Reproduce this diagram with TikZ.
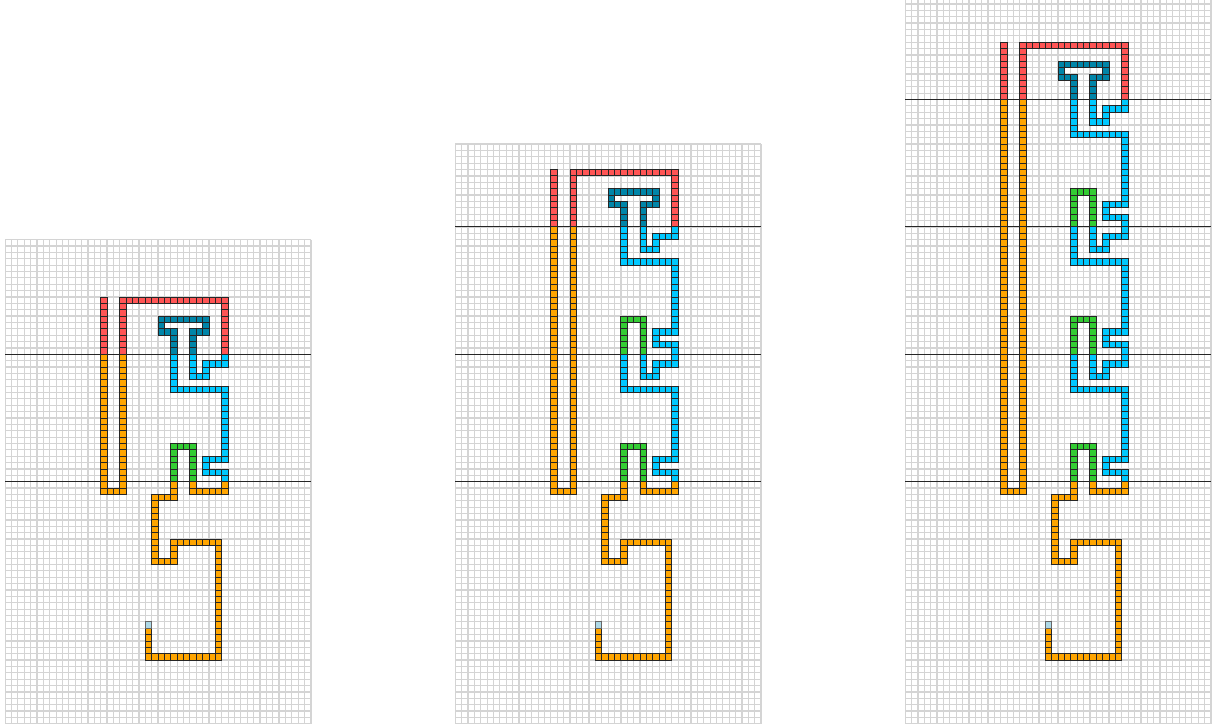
\documentclass[tikz,border=0pt]{standalone}
\definecolor{cred}{HTML}{FF5555}
\definecolor{corange}{HTML}{FFA500}
\definecolor{cdark}{HTML}{0085A8}
\definecolor{ccyan}{HTML}{00C8FF}
\definecolor{cgreen}{HTML}{33CC33}
\definecolor{clight}{HTML}{ADD8E6}
\tikzset{
  cellsty/.style={draw=black!85, line width=0.9pt},
  gridsty/.style={draw=black!17, line width=1.2pt},
  sepline/.style={draw=black!85, line width=1pt}
}
\newcommand\hrun[4]{\foreach \cc in {#3,...,#4}{\filldraw[cellsty,fill=#1] (\cc,#2) rectangle ++(1,1);}}
\newcommand\vrun[4]{\foreach \rr in {#3,...,#4}{\filldraw[cellsty,fill=#1] (#2,\rr) rectangle ++(1,1);}}
% #1 x offset (pt), #2 top module row T, #3 grid top row, #4 separator rows, #5 module rows
\newcommand\drawpanel[5]{%
\begin{scope}[shift={(#1pt,-354.3pt)},x=6.37pt,y=-6.37pt]
 \foreach \i in {0,...,48}{\draw[gridsty] (\i,#3) -- (\i,58);}
 \foreach \j in {#3,...,58}{\draw[gridsty] (0,\j) -- (48,\j);}
 \foreach \k in {#4}{\draw[sepline] (0,\k) -- (48,\k);}
 \pgfmathtruncatemacro\Ta{#2-9}\pgfmathtruncatemacro\Tb{#2-8}
 \pgfmathtruncatemacro\Tf{#2-6}\pgfmathtruncatemacro\Te{#2-5}
 \pgfmathtruncatemacro\Td{#2-4}\pgfmathtruncatemacro\Tc{#2-3}
 \pgfmathtruncatemacro\Tl{#2-1}
 % red top part
 \vrun{cred}{15}{\Ta}{\Tl}
 \vrun{cred}{18}{\Ta}{\Tl}
 \hrun{cred}{\Ta}{19}{34}
 \vrun{cred}{34}{\Tb}{\Tl}
 % dark blue T
 \hrun{cdark}{\Tf}{24}{31}
 \vrun{cdark}{24}{\Te}{\Td}
 \hrun{cdark}{\Td}{25}{26}
 \vrun{cdark}{26}{\Tc}{\Tl}
 \vrun{cdark}{31}{\Te}{\Td}
 \hrun{cdark}{\Td}{29}{30}
 \vrun{cdark}{29}{\Tc}{\Tl}
 % long orange U
 \vrun{corange}{15}{#2}{21}
 \vrun{corange}{18}{#2}{21}
 \hrun{corange}{21}{16}{17}
 % modules
 \foreach \R in {#5}{
  \pgfmathtruncatemacro\Ra{\R+1}\pgfmathtruncatemacro\Rb{\R+2}
  \pgfmathtruncatemacro\Rc{\R+3}\pgfmathtruncatemacro\Re{\R+5}
  \pgfmathtruncatemacro\Rf{\R+6}\pgfmathtruncatemacro\Rn{\R+14}
  \pgfmathtruncatemacro\Ro{\R+15}\pgfmathtruncatemacro\Rp{\R+16}
  \pgfmathtruncatemacro\Rq{\R+17}\pgfmathtruncatemacro\Rr{\R+18}
  \pgfmathtruncatemacro\Rs{\R+19}
  \vrun{ccyan}{29}{\R}{\Rc}
  \hrun{ccyan}{\Rc}{30}{31}
  \vrun{ccyan}{31}{\Ra}{\Rb}
  \hrun{ccyan}{\Ra}{32}{34}
  \vrun{ccyan}{34}{\R}{\R}
  \vrun{ccyan}{26}{\R}{\Re}
  \hrun{ccyan}{\Re}{27}{34}
  \vrun{ccyan}{34}{\Rf}{\Rp}
  \hrun{ccyan}{\Rp}{31}{33}
  \vrun{ccyan}{31}{\Rq}{\Rr}
  \hrun{ccyan}{\Rr}{32}{34}
  \vrun{ccyan}{34}{\Rs}{\Rs}
  \hrun{cgreen}{\Rn}{26}{29}
  \vrun{cgreen}{26}{\Ro}{\Rs}
  \vrun{cgreen}{29}{\Ro}{\Rs}
 }
 % bottom orange part
 \vrun{corange}{29}{20}{21}
 \hrun{corange}{21}{30}{34}
 \vrun{corange}{34}{20}{20}
 \vrun{corange}{26}{20}{22}
 \hrun{corange}{22}{23}{25}
 \vrun{corange}{23}{23}{32}
 \hrun{corange}{32}{24}{26}
 \vrun{corange}{26}{29}{31}
 \hrun{corange}{29}{27}{33}
 \vrun{corange}{33}{30}{47}
 \hrun{corange}{47}{22}{32}
 \vrun{corange}{22}{43}{46}
 \filldraw[cellsty,draw=black!60,fill=clight] (22,42) rectangle ++(1,1);
\end{scope}}
\begin{document}
\begin{tikzpicture}
\useasboundingbox (0pt,0pt) rectangle (1213pt,-726pt);
\clip (0pt,0pt) rectangle (1213pt,-726pt);
\drawpanel{5.15}{0}{-18}{0,20}{0}
\drawpanel{455.3}{-20}{-33}{-20,0,20}{-20,0}
\drawpanel{905.2}{-40}{-56}{-40,-20,0,20}{-40,-20,0}
\end{tikzpicture}
\end{document}
